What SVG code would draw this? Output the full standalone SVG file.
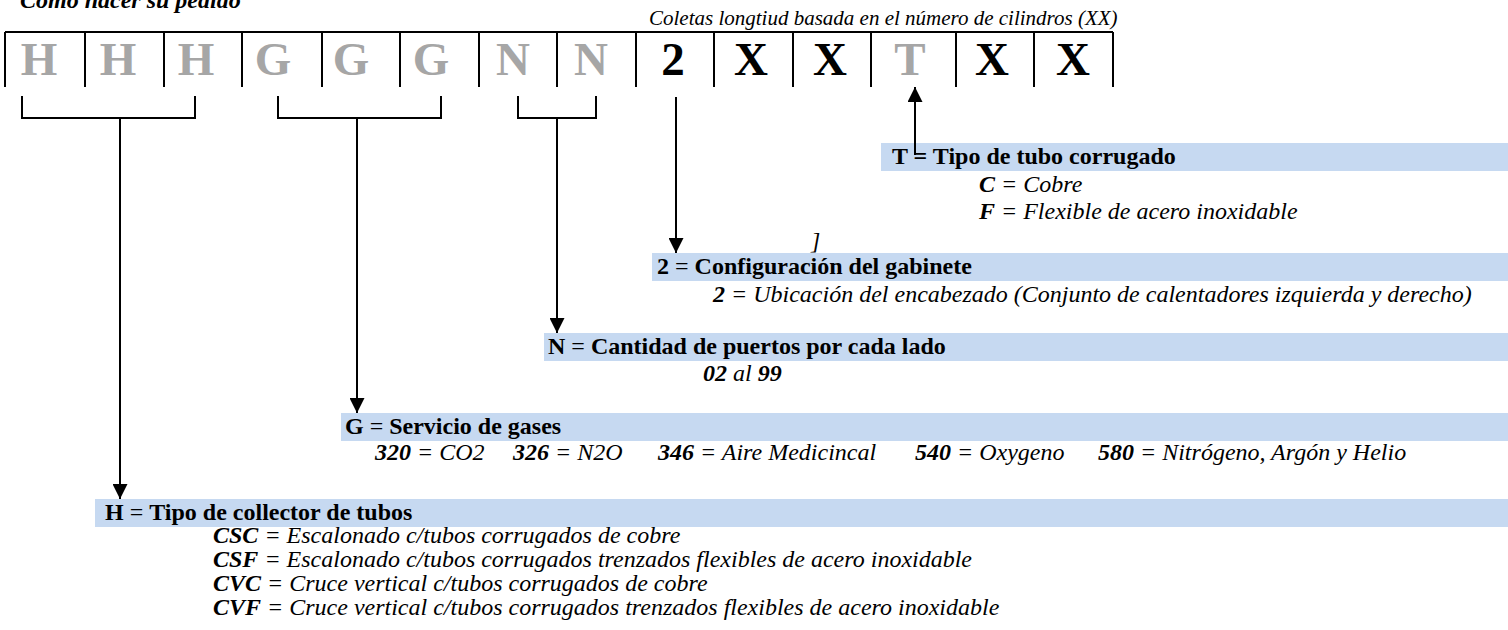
<svg xmlns="http://www.w3.org/2000/svg" width="1508" height="630" viewBox="0 0 1508 630">
<defs>
<marker id="ah" markerWidth="15" markerHeight="15" refX="15" refY="7.5" orient="auto" markerUnits="userSpaceOnUse"><path d="M0,0 L15,7.5 L0,15 z" fill="#000"/></marker>
</defs>
<style>
text{font-family:"Liberation Serif","Times New Roman",serif;fill:#000}
.cell{font-size:47px;font-weight:bold;text-anchor:middle}
.g{fill:#A6A6A6}
.bar{fill:#C6D9F1}
.hd{font-size:24px;font-weight:bold}
.sub{font-size:24px;font-style:italic}
.b{font-weight:bold}
.n{font-weight:normal}
.ln{stroke:#000;stroke-width:2;fill:none}
</style>
<rect x="0" y="0" width="1508" height="630" fill="#fff"/>

<g id="title">
<text x="20" y="8" style="font-size:24px;font-weight:bold;font-style:italic">Como hacer su pedido</text>
<text x="649" y="25" style="font-size:21px;font-style:italic">Coletas longtiud basada en el número de cilindros (XX)</text>
</g>

<g id="code-box">
<path class="ln" d="M5,32 H1113 M5,32 V87 M85,32 V87 M164,32 V87 M242,32 V87 M322,32 V87 M400,32 V87 M479,32 V87 M557,32 V87 M636,32 V87 M714,32 V87 M793,32 V87 M871,32 V87 M956,32 V87 M1034,32 V87 M1113,32 V87"/>
<text class="cell g" x="39" y="75">H</text>
<text class="cell g" x="118" y="75">H</text>
<text class="cell g" x="196" y="75">H</text>
<text class="cell g" x="273" y="75">G</text>
<text class="cell g" x="351" y="75">G</text>
<text class="cell g" x="431" y="75">G</text>
<text class="cell g" x="513" y="75">N</text>
<text class="cell g" x="591" y="75">N</text>
<text class="cell" x="673" y="75">2</text>
<text class="cell" x="751" y="75">X</text>
<text class="cell" x="830" y="75">X</text>
<text class="cell g" x="910" y="75">T</text>
<text class="cell" x="992" y="75">X</text>
<text class="cell" x="1073" y="75">X</text>
</g>

<g id="node-T">
<rect class="bar" x="881" y="143" width="627" height="28"/>
<text class="hd" x="892" y="164">T = Tipo de tubo corrugado</text>
<text class="sub" x="979" y="192"><tspan class="b">C</tspan> = Cobre</text>
<text class="sub" x="979" y="219"><tspan class="b">F</tspan> = Flexible de acero inoxidable</text>
</g>

<g id="node-bracket-note">
<text class="sub" x="811" y="249">]</text>
</g>

<g id="node-2">
<rect class="bar" x="652" y="253" width="856" height="28"/>
<text class="hd" x="657" y="274">2<tspan class="n"> = </tspan>Configuración del gabinete</text>
<text class="sub" x="713" y="302"><tspan class="b">2</tspan> = Ubicación del encabezado (Conjunto de calentadores izquierda y derecho)</text>
</g>

<g id="node-N">
<rect class="bar" x="544" y="333" width="964" height="28"/>
<text class="hd" x="548" y="354">N<tspan class="n"> = </tspan>Cantidad de puertos por cada lado</text>
<text class="sub" x="703" y="381"><tspan class="b">02</tspan> al <tspan class="b">99</tspan></text>
</g>

<g id="node-G">
<rect class="bar" x="341" y="413" width="1167" height="28"/>
<text class="hd" x="345" y="434">G<tspan class="n"> = </tspan>Servicio de gases</text>
<text class="sub" y="460"><tspan x="375" class="b">320</tspan> = CO2<tspan x="513" class="b">326</tspan> = N2O<tspan x="658" class="b">346</tspan> = Aire Medicincal<tspan x="915" class="b">540</tspan> = Oxygeno<tspan x="1098" class="b">580</tspan> = Nitrógeno, Argón y Helio</text>
</g>

<g id="node-H">
<rect class="bar" x="95" y="499" width="1413" height="28"/>
<text class="hd" x="105" y="520">H<tspan class="n"> = </tspan>Tipo de collector de tubos</text>
<text class="sub" x="213" y="543"><tspan class="b">CSC</tspan> = Escalonado c/tubos corrugados de cobre</text>
<text class="sub" x="213" y="567"><tspan class="b">CSF</tspan> = Escalonado c/tubos corrugados trenzados flexibles de acero inoxidable</text>
<text class="sub" x="213" y="591"><tspan class="b">CVC</tspan> = Cruce vertical c/tubos corrugados de cobre</text>
<text class="sub" x="213" y="615"><tspan class="b">CVF</tspan> = Cruce vertical c/tubos corrugados trenzados flexibles de acero inoxidable</text>
</g>

<g id="connectors">
<path class="ln" d="M22,96 V118 H195 V96"/>
<path class="ln" d="M120,118 V499" marker-end="url(#ah)"/>
<path class="ln" d="M278,96 V118 H441 V96"/>
<path class="ln" d="M357,118 V413" marker-end="url(#ah)"/>
<path class="ln" d="M518,96 V118 H596 V96"/>
<path class="ln" d="M557,118 V333" marker-end="url(#ah)"/>
<path class="ln" d="M676,97 V253" marker-end="url(#ah)"/>
<path class="ln" d="M915,155 V87" marker-end="url(#ah)"/>
</g>
</svg>
